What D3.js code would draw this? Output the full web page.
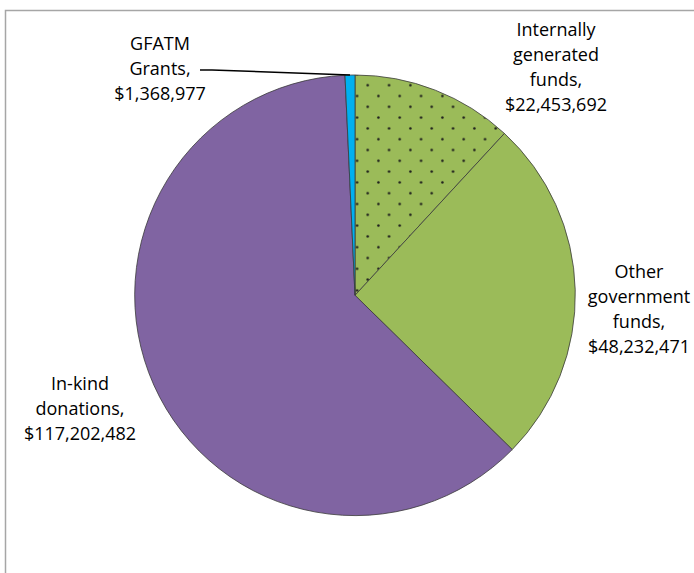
<!DOCTYPE html>
<html>
<head>
<meta charset="utf-8">
<script src="https://cdn.jsdelivr.net/npm/d3@7"></script>
<style>
  body { margin: 0; background: #fff; }
  svg { display: block; }
</style>
</head>
<body>
<div id="chart"></div>
<script>
// funding sources, clockwise from 12 o'clock
var sources = ["Internally generated funds", "Other government funds", "In-kind donations", "GFATM Grants"];
var amounts = [22453692, 48232471, 117202482, 1368977];
var labelLines = [
  ["Internally", "generated", "funds,"],
  ["Other", "government", "funds,"],
  ["In-kind", "donations,"],
  ["GFATM", "Grants,"]
];

var width = 694, height = 573;
var cx = 355, cy = 295.3, radius = 220.3;

var fmt = d3.format("$,");

var svg = d3.select("#chart")
  .append("svg")
  .attr("width", width)
  .attr("height", height);

// chart area border (runs off right and bottom)
svg.append("rect")
  .attr("x", 5.5)
  .attr("y", 10.5)
  .attr("width", 720)
  .attr("height", 600)
  .attr("fill", "none")
  .attr("stroke", "#a6a6a6")
  .attr("stroke-width", 1.5);

var g = svg.append("g")
  .attr("transform", "translate(" + cx + "," + cy + ")");

// dotted fill for the first slice
var defs = svg.append("defs");
var pat = defs.append("pattern")
  .attr("id", "dots")
  .attr("patternUnits", "userSpaceOnUse")
  .attr("x", 362.4 - cx)
  .attr("y", 101.4 - cy)
  .attr("width", 21.33)
  .attr("height", 21.6);
pat.append("rect")
  .attr("width", 21.33)
  .attr("height", 21.6)
  .attr("fill", "#9bbb59");
pat.selectAll("circle")
  .data([[5.33, 5.4], [16, 16.2]])
  .join("circle")
  .attr("cx", function(d) { return d[0]; })
  .attr("cy", function(d) { return d[1]; })
  .attr("r", 1.25)
  .attr("fill", "#1a1a1a");

var color = d3.scaleOrdinal()
  .domain(sources)
  .range(["url(#dots)", "#9bbb59", "#8064a2", "#00b0f0"]);

var pie = d3.pie()
  .sort(null)
  .value(function(d, i) { return amounts[i]; });

var arc = d3.arc()
  .innerRadius(0)
  .outerRadius(radius);

g.selectAll("path")
  .data(pie(sources))
  .join("path")
  .attr("d", arc)
  .attr("fill", function(d) { return color(d.data); })
  .attr("stroke", "#3a3a3a")
  .attr("stroke-width", 0.8)
  .attr("stroke-linejoin", "round");

// label anchors (centre of each text block, first line)
var labelPos = [[556, 30], [639, 272], [80, 384], [160, 44]];
var lineH = 25;

sources.forEach(function(s, i) {
  var lines = labelLines[i].concat([fmt(amounts[i])]);
  var t = svg.append("text")
    .attr("text-anchor", "middle")
    .style("font-family", "'Open Sans', sans-serif")
    .style("font-size", "18px")
    .attr("fill", "#000");
  t.selectAll("tspan")
    .data(lines)
    .join("tspan")
    .attr("x", labelPos[i][0])
    .attr("y", function(d, j) { return labelPos[i][1] + j * lineH; })
    .attr("dy", "0.35em")
    .text(function(d) { return d; });
});

// leader line for GFATM
var gfatm = pie(sources)[3];
var mid = (gfatm.startAngle + gfatm.endAngle) / 2;
var tip = [cx + Math.sin(mid) * radius, cy - Math.cos(mid) * radius];
svg.append("polyline")
  .attr("points", [[200, 70], [212, 70], tip].map(function(p) { return p.join(","); }).join(" "))
  .attr("fill", "none")
  .attr("stroke", "#000")
  .attr("stroke-width", 1.5);
</script>
</body>
</html>
